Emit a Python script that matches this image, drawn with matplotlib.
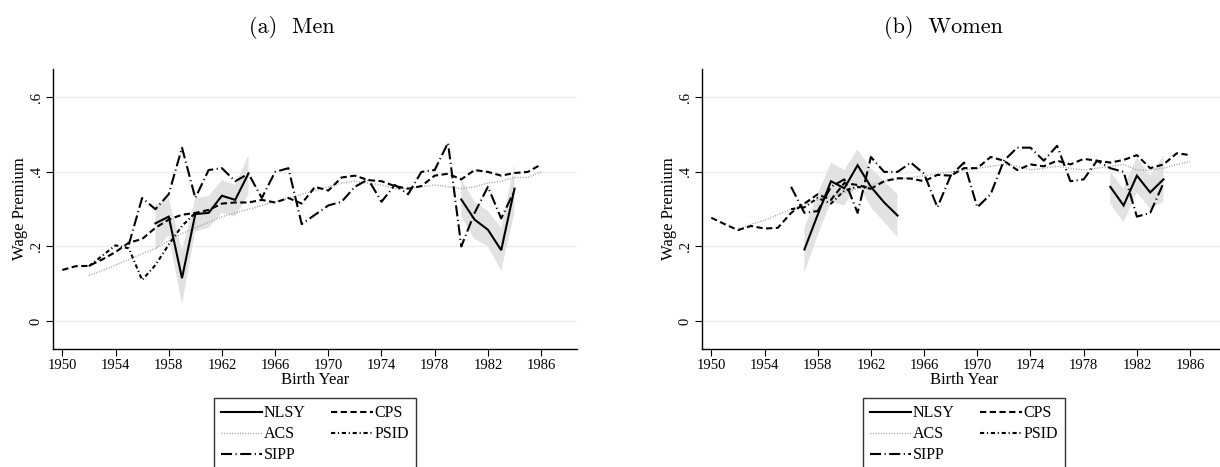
import numpy as np
import matplotlib
matplotlib.use("Agg")
import matplotlib.pyplot as plt

plt.rcParams['font.family'] = ['Liberation Serif', 'DejaVu Serif']
plt.rcParams['lines.scale_dashes'] = False

nan = np.nan

# ---------------- Men ----------------
men_nlsy_years = [1957, 1958, 1959, 1960, 1961, 1962, 1963, 1964, 1965,
                  1980, 1981, 1982, 1983, 1984]
men_nlsy = [0.262, 0.280, 0.115, 0.287, 0.290, 0.336, 0.325, 0.396, nan,
            0.326, 0.272, 0.245, 0.190, 0.355]
men_nlsy_lo = [0.190, 0.230, 0.045, 0.240, 0.250, 0.290, 0.280, 0.340, nan,
               0.280, 0.220, 0.200, 0.135, 0.290]
men_nlsy_hi = [0.310, 0.330, 0.190, 0.330, 0.335, 0.378, 0.365, 0.445, nan,
               0.380, 0.320, 0.295, 0.250, 0.420]

men_cps_years = list(range(1950, 1987))
men_cps = [0.137, 0.147, 0.148, 0.165, 0.185, 0.210, 0.220, 0.250, 0.272, 0.285,
           0.290, 0.298, 0.315, 0.318, 0.318, 0.325, 0.318, 0.330, 0.315, 0.360,
           0.350, 0.385, 0.390, 0.378, 0.375, 0.362, 0.355, 0.362, 0.390, 0.395,
           0.380, 0.405, 0.400, 0.390, 0.397, 0.400, 0.420]

men_acs_years = list(range(1952, 1987))
men_acs = [0.122, 0.135, 0.150, 0.165, 0.180, 0.195, 0.215, 0.235, 0.250, 0.265,
           0.280, 0.290, 0.300, 0.310, 0.320, 0.330, 0.340, 0.350, 0.360, 0.370,
           0.375, 0.370, 0.365, 0.355, 0.355, 0.360, 0.365, 0.360, 0.355, 0.360,
           0.370, 0.375, 0.385, 0.385, 0.400]

men_psid_years = [1952, 1953, 1954, 1955, 1956, 1957, 1958, 1959, 1960]
men_psid = [0.147, 0.175, 0.203, 0.195, 0.110, 0.150, 0.205, 0.255, 0.290]

men_sipp_years = list(range(1955, 1985))
men_sipp = [0.205, 0.330, 0.300, 0.340, 0.465, 0.330, 0.405, 0.410, 0.375, 0.395,
            0.330, 0.400, 0.410, 0.260, 0.285, 0.310, 0.320, 0.360, 0.380, 0.320,
            0.365, 0.340, 0.400, 0.405, 0.478, 0.200, 0.290, 0.360, 0.275, 0.350]

# ---------------- Women ----------------
wom_nlsy_years = [1957, 1958, 1959, 1960, 1961, 1962, 1963, 1964, 1965,
                  1980, 1981, 1982, 1983, 1984]
wom_nlsy = [0.192, 0.285, 0.375, 0.356, 0.418, 0.360, 0.318, 0.283, nan,
            0.360, 0.310, 0.390, 0.345, 0.380]
wom_nlsy_lo = [0.130, 0.230, 0.320, 0.310, 0.370, 0.305, 0.265, 0.225, nan,
               0.315, 0.265, 0.345, 0.300, 0.320]
wom_nlsy_hi = [0.250, 0.340, 0.425, 0.405, 0.460, 0.410, 0.375, 0.340, nan,
               0.400, 0.355, 0.440, 0.390, 0.445]

wom_cps_years = list(range(1950, 1987))
wom_cps = [0.277, 0.260, 0.244, 0.255, 0.248, 0.250, 0.290, 0.315, 0.340, 0.325,
           0.370, 0.365, 0.355, 0.375, 0.383, 0.382, 0.375, 0.392, 0.390, 0.410,
           0.410, 0.440, 0.430, 0.405, 0.420, 0.415, 0.430, 0.420, 0.435, 0.430,
           0.425, 0.432, 0.445, 0.410, 0.420, 0.450, 0.445]

wom_acs_years = list(range(1952, 1987))
wom_acs = [0.245, 0.260, 0.270, 0.285, 0.300, 0.315, 0.325, 0.335, 0.345, 0.355,
           0.365, 0.375, 0.380, 0.385, 0.390, 0.395, 0.400, 0.405, 0.410, 0.415,
           0.420, 0.415, 0.405, 0.410, 0.415, 0.410, 0.405, 0.410, 0.415, 0.420,
           0.405, 0.405, 0.410, 0.420, 0.428]

wom_psid_years = [1956, 1957, 1958, 1959, 1960, 1961, 1962]
wom_psid = [0.300, 0.305, 0.330, 0.315, 0.350, 0.360, 0.355]

wom_sipp_years = list(range(1956, 1985))
wom_sipp = [0.360, 0.290, 0.295, 0.360, 0.380, 0.290, 0.440, 0.400, 0.400, 0.425,
            0.395, 0.305, 0.390, 0.425, 0.305, 0.340, 0.430, 0.465, 0.465, 0.430,
            0.470, 0.375, 0.380, 0.430, 0.410, 0.400, 0.280, 0.290, 0.370]

titles = ["(a)  Men", "(b)  Women"]
legend_labels = ["NLSY", "ACS", "SIPP", "CPS", "PSID"]
xticks = list(range(1950, 1987, 4))
yticks = [0, 0.2, 0.4, 0.6]
yticklabels = ["0", ".2", ".4", ".6"]

W, H = 1220, 467
fig = plt.figure(figsize=(W / 100, H / 100), dpi=100)

panels = [
    dict(left=53, title_x=292, legend_x=315,
         nlsy=(men_nlsy_years, men_nlsy, men_nlsy_lo, men_nlsy_hi),
         cps=(men_cps_years, men_cps), acs=(men_acs_years, men_acs),
         psid=(men_psid_years, men_psid), sipp=(men_sipp_years, men_sipp)),
    dict(left=702, title_x=943, legend_x=964,
         nlsy=(wom_nlsy_years, wom_nlsy, wom_nlsy_lo, wom_nlsy_hi),
         cps=(wom_cps_years, wom_cps), acs=(wom_acs_years, wom_acs),
         psid=(wom_psid_years, wom_psid), sipp=(wom_sipp_years, wom_sipp)),
]

ax_w, ax_top, ax_bot = 524, 69, 349
grid_col = '#e6eeee'

for i, p in enumerate(panels):
    ax = fig.add_axes([p['left'] / W, 1 - ax_bot / H, ax_w / W, (ax_bot - ax_top) / H])
    ax.set_xlim(1949.3, 1988.7)
    ax.set_ylim(-0.075, 0.676)
    for yv in yticks:
        ax.axhline(yv, color=grid_col, lw=1.0, zorder=0)

    yrs, v, lo, hi = p['nlsy']
    ax.fill_between(yrs, lo, hi, color='#e2e2e2', lw=0, zorder=1)

    h_nlsy, = ax.plot(yrs, v, color='black', lw=1.5, zorder=5, solid_joinstyle='miter')
    h_cps, = ax.plot(*p['cps'], color='black', lw=1.5, linestyle=(0, (4.5, 2.5)), zorder=4)
    h_acs, = ax.plot(*p['acs'], color='#9a9a9a', lw=1.0, linestyle=(0, (0.7, 1.2)), zorder=3)
    h_psid, = ax.plot(*p['psid'], color='black', lw=1.5, linestyle=(0, (3, 2, 0.8, 2)), zorder=4)
    h_sipp, = ax.plot(*p['sipp'], color='black', lw=1.5, linestyle=(0, (8, 2.5, 0.8, 2.5)), zorder=4)

    for s in ['top', 'right']:
        ax.spines[s].set_visible(False)
    ax.spines['left'].set_linewidth(1.0)
    ax.spines['bottom'].set_linewidth(1.0)
    ax.set_xticks(xticks)
    ax.set_xticklabels([str(t) for t in xticks], fontsize=10.5)
    ax.set_yticks(yticks)
    ax.set_yticklabels(yticklabels, fontsize=10.5, rotation=90, va='center')
    ax.tick_params(axis='both', direction='out', length=5, width=0.8, pad=2.5)
    ax.set_xlabel("Birth Year", fontsize=12, labelpad=0)
    ax.set_ylabel("Wage Premium", fontsize=12, labelpad=1)

    fig.text(p['title_x'] / W, 1 - 27.5 / H, titles[i], fontsize=16,
             family='cmr10', ha='center', va='center')

    handles = [h_nlsy, h_acs, h_sipp, h_cps, h_psid]
    leg = fig.legend(handles, legend_labels, ncol=2, loc='upper center',
                     bbox_to_anchor=(p['legend_x'] / W, 1 - 398 / H),
                     fontsize=11.5, frameon=True, fancybox=False, shadow=False,
                     handlelength=2.6, handletextpad=0.1, columnspacing=1.6,
                     labelspacing=0.32, borderpad=0.45, borderaxespad=0)
    leg.get_frame().set_edgecolor('black')
    leg.get_frame().set_linewidth(1.0)

fig.savefig("out.png", dpi=100)
